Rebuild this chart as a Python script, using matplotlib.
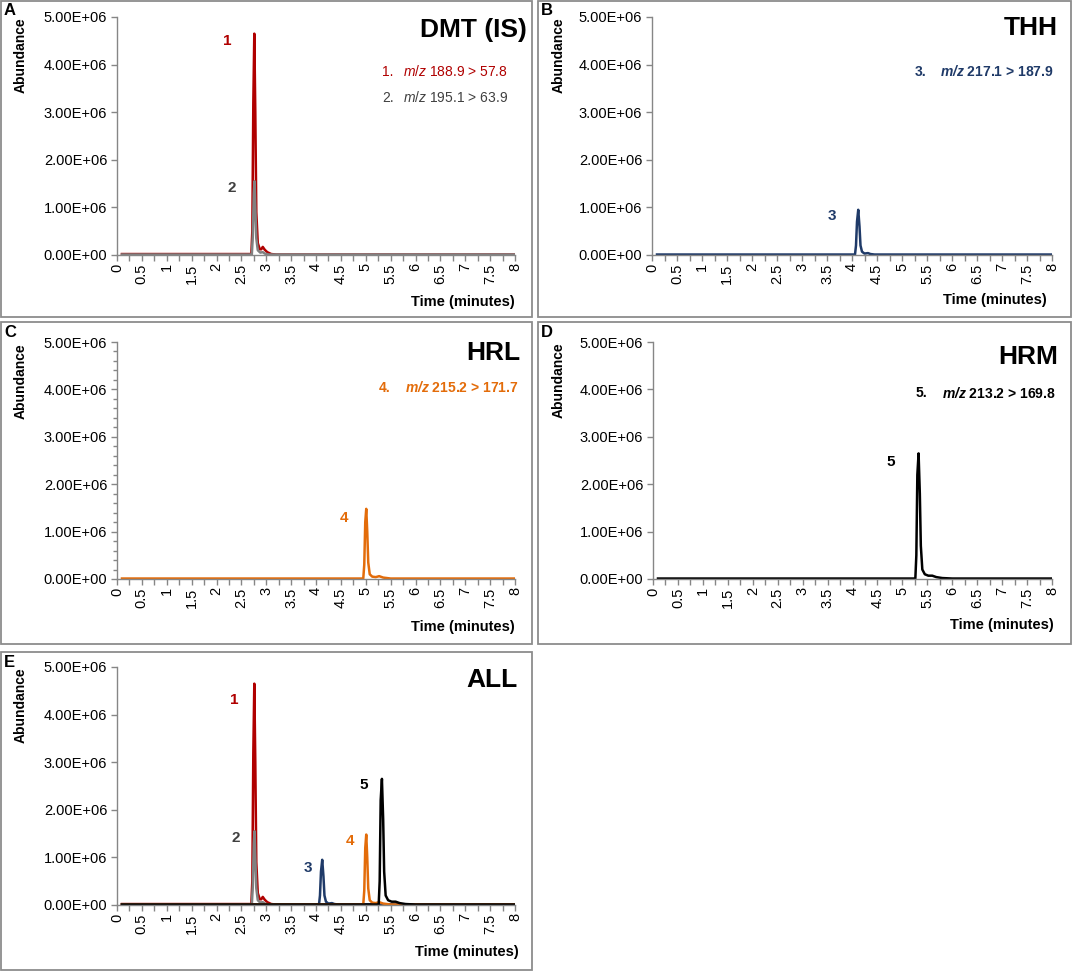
import matplotlib
matplotlib.use('Agg')
import matplotlib.pyplot as plt
import matplotlib.patches as mpatches
from matplotlib.ticker import MultipleLocator, FuncFormatter
import numpy as np

plt.rcParams['font.family'] = ['Liberation Sans', 'DejaVu Sans']
plt.rcParams['mathtext.fontset'] = 'custom'
plt.rcParams['mathtext.rm'] = 'Liberation Sans'
plt.rcParams['mathtext.it'] = 'Liberation Sans:italic'
plt.rcParams['mathtext.bf'] = 'Liberation Sans:bold'
plt.rcParams['mathtext.bfit'] = 'Liberation Sans:italic:bold'

# chromatogram traces, time in minutes, abundance in counts
t_dmt1 = [0.1, 2.70, 2.72, 2.74, 2.76, 2.78, 2.80, 2.83, 2.87, 2.90, 2.93, 2.97, 3.02, 3.10, 3.20, 7.98]
a_dmt1 = [0.02e6, 0.02e6, 0.5e6, 3.2e6, 4.65e6, 3.0e6, 0.9e6, 0.25e6, 0.12e6, 0.12e6, 0.17e6, 0.11e6, 0.06e6, 0.02e6, 0.01e6, 0.01e6]

t_dmt2 = [0.1, 2.71, 2.73, 2.75, 2.765, 2.78, 2.80, 2.83, 2.88, 2.93, 2.97, 3.05, 7.98]
a_dmt2 = [0.01e6, 0.01e6, 0.4e6, 1.3e6, 1.55e6, 1.0e6, 0.35e6, 0.1e6, 0.05e6, 0.06e6, 0.03e6, 0.01e6, 0.01e6]

t_thh = [0.1, 4.06, 4.08, 4.10, 4.125, 4.15, 4.17, 4.20, 4.25, 4.32, 4.37, 4.45, 7.98]
a_thh = [0.01e6, 0.01e6, 0.2e6, 0.7e6, 0.95e6, 0.6e6, 0.2e6, 0.07e6, 0.03e6, 0.04e6, 0.02e6, 0.01e6, 0.01e6]

t_hrl = [0.1, 4.95, 4.97, 4.99, 5.01, 5.03, 5.05, 5.08, 5.13, 5.20, 5.27, 5.35, 5.50, 7.98]
a_hrl = [0.01e6, 0.01e6, 0.3e6, 1.2e6, 1.48e6, 1.0e6, 0.35e6, 0.1e6, 0.05e6, 0.04e6, 0.06e6, 0.03e6, 0.01e6, 0.01e6]

t_hrm = [0.1, 5.26, 5.28, 5.30, 5.325, 5.35, 5.37, 5.40, 5.45, 5.52, 5.60, 5.68, 5.80, 6.00, 7.98]
a_hrm = [0.01e6, 0.01e6, 0.5e6, 2.2e6, 2.65e6, 1.8e6, 0.7e6, 0.2e6, 0.1e6, 0.07e6, 0.07e6, 0.04e6, 0.02e6, 0.01e6, 0.01e6]

# peak label positions (time, abundance)
rotulos_A = [('1', 2.21, 4.5e6), ('2', 2.30, 1.41e6)]
rotulos_B = [('3', 3.60, 0.82e6)]
rotulos_C = [('4', 4.56, 1.29e6)]
rotulos_D = [('5', 4.76, 2.47e6)]
rotulos_E = [('1', 2.36, 4.31e6), ('2', 2.38, 1.41e6), ('3', 3.83, 0.78e6),
             ('4', 4.69, 1.34e6), ('5', 4.96, 2.52e6)]

cor_dmt1 = '#B00000'
cor_dmt2 = '#808080'
cor_dmt2_txt = '#404040'
cor_thh = '#1F3A68'
cor_hrl = '#E36C0A'
cor_hrm = '#000000'

W, H = 1074, 977
fig = plt.figure(figsize=(W / 100, H / 100), dpi=100)


def fx(px):
    return px / W


def fy(py):
    return 1 - py / H


def caixa(l, t, r, b):
    fig.patches.append(mpatches.Rectangle((fx(l), fy(b)), fx(r - l), (b - t) / H,
                                          transform=fig.transFigure, fill=False,
                                          edgecolor='#8c8c8c', linewidth=1.3))


def eixo(l, t, r, b, minor_y=False):
    ax = fig.add_axes([fx(l), fy(b), fx(r - l), (b - t) / H])
    ax.set_xlim(0, 8)
    ax.set_ylim(0, 5e6)
    for s in ['top', 'right']:
        ax.spines[s].set_visible(False)
    for s in ['left', 'bottom']:
        ax.spines[s].set_color('#868686')
        ax.spines[s].set_linewidth(1.0)
    ax.xaxis.set_major_locator(MultipleLocator(0.5))
    ax.xaxis.set_minor_locator(MultipleLocator(0.25))
    ax.yaxis.set_major_locator(MultipleLocator(1e6))
    if minor_y:
        ax.yaxis.set_minor_locator(MultipleLocator(0.2e6))
    ax.xaxis.set_major_formatter(FuncFormatter(lambda v, p: f'{v:g}'))
    ax.yaxis.set_major_formatter(FuncFormatter(lambda v, p: f'{v:.2E}'))
    ax.tick_params(which='both', direction='out', length=4, width=1.0, color='#868686')
    ax.tick_params(axis='x', which='major', labelrotation=90, labelsize=10.5, pad=2)
    ax.tick_params(axis='y', which='major', labelsize=10.5, pad=3)
    ax.tick_params(axis='y', which='minor', length=3)
    ax.set_facecolor('none')
    return ax


def textos(ax, letra, lx, ly, titulo, tx, ty, ab_x, ab_y, tm_x, tm_y):
    fig.text(fx(lx), fy(ly), letra, fontsize=12, fontweight='bold', ha='left', va='top')
    fig.text(fx(tx), fy(ty), titulo, fontsize=19, fontweight='bold', ha='right', va='center')
    fig.text(fx(ab_x), fy(ab_y), 'Abundance', fontsize=10, fontweight='bold',
             rotation=90, ha='center', va='top')
    fig.text(fx(tm_x), fy(tm_y), 'Time (minutes)', fontsize=10.5, fontweight='bold',
             ha='right', va='center')


def legenda(num, nx, mx, y, texto, cor, negrito):
    peso = 'bold' if negrito else 'normal'
    mz = r'$\mathbfit{m/z}$' if negrito else r'$\mathit{m/z}$'
    fig.text(fx(nx), fy(y), num, fontsize=10, color=cor, fontweight=peso, ha='left', va='center')
    fig.text(fx(mx), fy(y), mz + ' ' + texto, fontsize=10, color=cor, fontweight=peso,
             ha='left', va='center')


def rotulos(ax, lista, cores):
    for (txt, x, y), c in zip(lista, cores):
        ax.text(x, y, txt, fontsize=11, fontweight='bold', color=c, ha='center', va='center')


lw = 1.8

# ---- A: DMT (IS)
caixa(1, 1, 532, 317)
axA = eixo(117, 17, 515, 255)
axA.plot(t_dmt1, a_dmt1, color=cor_dmt1, lw=lw)
axA.plot(t_dmt2, a_dmt2, color=cor_dmt2, lw=lw)
rotulos(axA, rotulos_A, [cor_dmt1, cor_dmt2_txt])
textos(axA, 'A', 4, 3, 'DMT (IS)', 527, 30, 21, 17, 515, 302)
legenda('1.', 382, 403, 72, '188.9 > 57.8', cor_dmt1, False)
legenda('2.', 382, 403, 98, '195.1 > 63.9', cor_dmt2_txt, False)

# ---- B: THH
caixa(538, 1, 1071, 317)
axB = eixo(652, 17, 1052, 255)
axB.plot(t_thh, a_thh, color=cor_thh, lw=lw)
rotulos(axB, rotulos_B, [cor_thh])
textos(axB, 'B', 541, 3, 'THH', 1058, 28, 559, 17, 1047, 300)
legenda('3.', 915, 940, 72, '217.1 > 187.9', cor_thh, True)

# ---- C: HRL
caixa(1, 322, 532, 644)
axC = eixo(117, 342, 515, 579, minor_y=True)
axC.plot(t_hrl, a_hrl, color=cor_hrl, lw=lw)
rotulos(axC, rotulos_C, [cor_hrl])
textos(axC, 'C', 4, 325, 'HRL', 520, 353, 21, 343, 515, 627)
legenda('4.', 379, 405, 388, '215.2 > 171.7', cor_hrl, True)

# ---- D: HRM
caixa(538, 322, 1071, 644)
axD = eixo(653, 342, 1052, 579)
axD.plot(t_hrm, a_hrm, color=cor_hrm, lw=lw)
rotulos(axD, rotulos_D, [cor_hrm])
textos(axD, 'D', 541, 325, 'HRM', 1058, 357, 559, 342, 1054, 625)
legenda('5.', 916, 942, 393, '213.2 > 169.8', cor_hrm, True)

# ---- E: ALL
caixa(1, 652, 532, 970)
axE = eixo(117, 667, 515, 905)
axE.plot(t_dmt1, a_dmt1, color=cor_dmt1, lw=lw)
axE.plot(t_dmt2, a_dmt2, color=cor_dmt2, lw=lw)
axE.plot(t_thh, a_thh, color=cor_thh, lw=lw)
axE.plot(t_hrl, a_hrl, color=cor_hrl, lw=lw)
axE.plot(t_hrm, a_hrm, color=cor_hrm, lw=lw)
rotulos(axE, rotulos_E, [cor_dmt1, cor_dmt2_txt, cor_thh, cor_hrl, cor_hrm])
textos(axE, 'E', 4, 655, 'ALL', 518, 680, 21, 667, 519, 952)

fig.savefig('out.png', dpi=100)
